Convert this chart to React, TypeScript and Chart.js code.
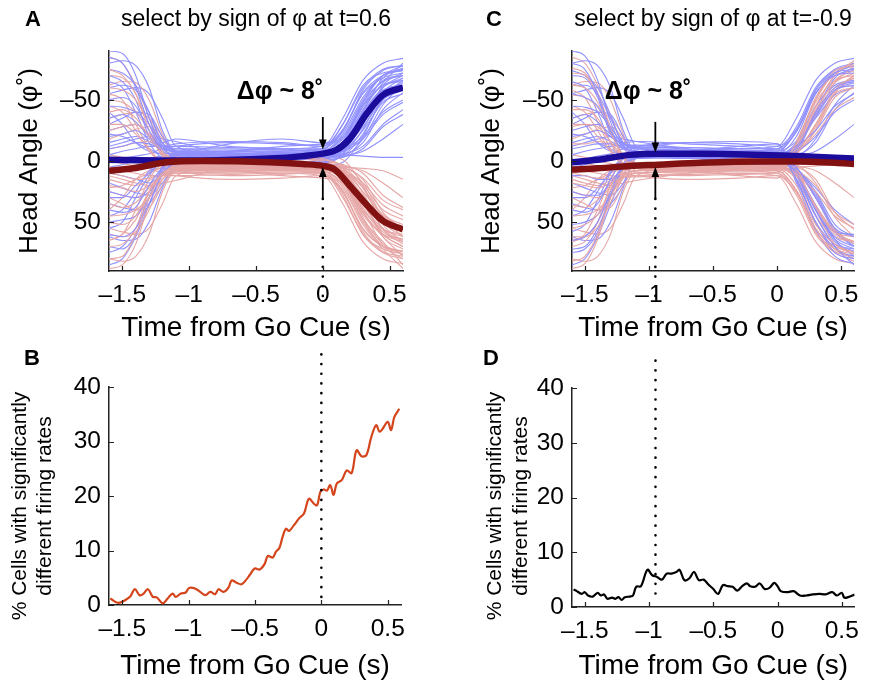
import React, { useEffect, useRef } from 'react';
import { Chart, registerables } from 'chart.js';

Chart.register(...registerables);

const FONT = '"Liberation Sans", Arial, Helvetica, sans-serif';
const BLUE_TRIAL = '#9090ff';
const RED_TRIAL = '#e6a6a6';
const BLUE_MEAN = '#1c0c9c';
const RED_MEAN = '#821212';
const B_LINE = '#d4451c';
const D_LINE = '#000000';

// ---------- tick labels ----------
const xTickValues = [-1.5, -1, -0.5, 0, 0.5];
const angleTickValues = [-50, 0, 50];
const pctTickValues = [0, 10, 20, 30, 40];

// ---------- single-trial head angle traces (deg) ----------
const trialTimes = [-1.6, -1.5, -1.4, -1.3, -1.2, -1.1, -0.7, -0.3, 0, 0.15, 0.3, 0.45, 0.6];

const trialsABlue = [
  [-85, -80, -60, -30, -10, -6, -5, -6, -8, -20, -50, -70, -75],
  [40, 42, 38, 20, 5, -3, -4, -5, -6, -15, -45, -62, -66],
  [-50, -52, -45, -25, -10, -8, -7, -6, -5, -10, -30, -55, -60],
  [60, 62, 55, 35, 10, 2, -2, -3, -4, -8, -25, -48, -55],
  [-20, -22, -25, -18, -12, -14, -16, -15, -12, -30, -62, -72, -74],
  [-70, -65, -50, -20, -8, -5, -4, -6, -7, -12, -38, -60, -68],
  [25, 28, 30, 25, 10, 0, -3, -2, -5, -9, -20, -40, -50],
  [-35, -38, -32, -20, -12, -10, -10, -9, -10, -25, -55, -68, -72],
  [70, 72, 60, 30, 5, -2, -4, -5, -5, -6, -12, -30, -42],
  [-10, -12, -15, -14, -10, -8, -6, -5, -4, -5, -4, -3, -3],
  [-60, -62, -58, -40, -15, -9, -8, -8, -9, -18, -48, -65, -70],
  [10, 12, 15, 18, 10, 0, -4, -4, -6, -10, -35, -58, -62],
  [-45, -44, -40, -30, -15, -18, -12, -10, -7, -14, -42, -64, -80],
  [50, 48, 45, 30, 8, -2, -5, -4, -5, -12, -40, -58, -60],
  [-25, -28, -30, -22, -12, -8, -8, -7, -6, -8, -18, -38, -48],
  [-90, -88, -70, -35, -12, -8, -6, -7, -8, -22, -52, -70, -78],
  [30, 30, 20, 10, -2, -5, -6, -5, -7, -16, -44, -62, -65],
  [-5, -8, -10, -12, -12, -12, -11, -10, -10, -30, -60, -75, -78],
  [75, 70, 55, 30, 6, -1, -2, -3, -4, -10, -28, -50, -58],
  [-15, -18, -20, -16, -10, -7, -6, -6, -6, -12, -36, -56, -64],
  [55, 50, 30, 12, 0, -4, -14, -18, -15, -20, -46, -66, -70],
  [-75, -72, -62, -40, -14, -10, -9, -9, -8, -15, -34, -52, -58],
  [-30, -35, -40, -38, -20, -6, 2, 3, 1, -4, -22, -50, -62],
  [5, 3, 0, -2, -4, -3, 4, 6, 2, -6, -40, -68, -76],
  [-65, -60, -40, -15, -2, 3, 6, 4, 0, -3, -10, -28, -38],
  [45, 40, 25, 8, -2, -6, -8, -10, -12, -35, -66, -80, -84],
  [-80, -82, -78, -60, -25, -8, -3, -1, -2, -8, -30, -62, -72],
  [18, 22, 26, 28, 18, 4, 0, -1, -3, -5, -15, -42, -56],
  [-40, -30, -15, -8, -6, -6, -8, -12, -14, -18, -48, -70, -74],
  [62, 65, 64, 50, 22, 4, -1, -2, -2, -4, -8, -18, -30],
  [-12, -15, -18, -20, -18, -16, -4, 0, 4, 1, -20, -52, -66],
  [35, 38, 40, 35, 20, 6, -4, -8, -10, -24, -58, -74, -78],
  [-55, -58, -60, -55, -35, -12, -5, -3, -3, -6, -26, -56, -68],
  [85, 80, 62, 36, 12, 3, 0, -2, -1, -3, -18, -46, -62],
  [-22, -20, -15, -10, -5, -2, 0, 2, -1, -8, -34, -60, -70],
  [0, -2, -4, -6, -10, -12, -15, -14, -12, -26, -56, -70, -74],
];

const trialsARed = [
  [80, 78, 60, 30, 10, 6, 5, 6, 8, 20, 50, 70, 80],
  [-40, -42, -35, -20, -5, 3, 4, 5, 6, 15, 42, 60, 66],
  [50, 52, 45, 25, 12, 8, 7, 6, 5, 10, 30, 55, 62],
  [-60, -58, -50, -30, -8, 0, 2, 3, 4, 8, 25, 45, 55],
  [20, 22, 25, 20, 12, 10, 9, 8, 8, 28, 60, 72, 76],
  [70, 68, 55, 25, 10, 5, 4, 6, 7, 12, 38, 60, 70],
  [-25, -28, -30, -22, -8, 0, 3, 2, 5, 9, 20, 40, 48],
  [35, 38, 34, 22, 12, 10, 10, 9, 10, 25, 55, 70, 74],
  [-70, -68, -55, -25, -4, 2, 4, 5, 5, 6, 14, 32, 40],
  [10, 12, 15, 14, 10, 8, 6, 5, 4, 5, 6, 8, 15],
  [60, 62, 58, 40, 15, 9, 8, 8, 9, 18, 48, 66, 85],
  [-10, -12, -15, -16, -8, 0, 4, 4, 6, 10, 35, 58, 64],
  [45, 44, 40, 30, 15, 10, 9, 7, 7, 14, 42, 62, 78],
  [-50, -48, -40, -25, -6, 2, 5, 4, 5, 12, 40, 56, 60],
  [25, 28, 30, 22, 12, 8, 8, 7, 6, 8, 18, 36, 45],
  [88, 85, 68, 35, 12, 8, 6, 7, 8, 22, 52, 72, 88],
  [-30, -30, -22, -10, 2, 5, 6, 5, 7, 16, 44, 60, 64],
  [5, 8, 10, 12, 12, 12, 11, 10, 10, 30, 60, 75, 80],
  [-75, -70, -55, -30, -6, 1, 2, 3, 4, 10, 28, 50, 56],
  [15, 18, 20, 16, 10, 7, 6, 6, 6, 12, 36, 56, 66],
  [-55, -50, -30, -10, 4, 8, 12, 11, 9, 14, 46, 68, 74],
  [65, 60, 48, 26, 9, 4, 3, 2, 3, 6, 22, 44, 52],
  [30, 35, 40, 38, 20, 6, -2, -3, -1, 4, 22, 50, 62],
  [-5, -3, 0, 2, 4, 3, -4, -6, -2, 6, 40, 68, 76],
  [65, 60, 40, 15, 2, -3, -6, -4, 0, 3, 10, 28, 38],
  [-45, -40, -25, -8, 2, 6, 8, 10, 12, 35, 66, 80, 84],
  [80, 82, 78, 60, 25, 8, 3, 1, 2, 8, 30, 62, 72],
  [-18, -22, -26, -28, -18, -4, 0, 1, 3, 5, 15, 42, 56],
  [40, 30, 15, 8, 6, 6, 8, 12, 14, 18, 48, 70, 74],
  [-62, -65, -64, -50, -22, -4, 1, 2, 2, 4, 8, 18, 30],
  [12, 15, 18, 20, 18, 16, 4, 0, -4, -1, 20, 52, 66],
  [-35, -38, -40, -35, -20, -6, 4, 8, 10, 24, 58, 74, 78],
  [55, 58, 60, 55, 35, 12, 5, 3, 3, 6, 26, 56, 68],
  [-85, -80, -62, -36, -12, -3, 0, 2, 1, 3, 18, 46, 62],
  [22, 20, 15, 10, 5, 2, 0, -2, 1, 8, 34, 60, 70],
  [0, 2, 4, 6, 10, 12, 15, 14, 12, 26, 56, 70, 74],
];

const trialsCBlue = [
  [-80, -75, -55, -25, -12, -8, -7, -6, -6, -20, -55, -70, -72],
  [40, 42, 35, 15, -2, -6, -5, -4, -5, 15, 50, 68, 72],
  [-55, -52, -45, -25, -12, -10, -8, -7, -6, -10, -40, -60, -65],
  [65, 62, 50, 25, 2, -4, -5, -5, -4, 10, 40, 62, 70],
  [-20, -22, -25, -20, -14, -12, -10, -8, -8, -25, -58, -72, -75],
  [-70, -68, -52, -22, -10, -6, -5, -6, -7, 5, 30, 55, 62],
  [25, 28, 28, 18, 4, -3, -4, -3, -5, -12, -25, -45, -55],
  [-35, -38, -32, -20, -14, -12, -11, -10, -10, 15, 50, 75, 80],
  [75, 72, 58, 28, 4, -3, -4, -5, -5, -8, -20, -40, -50],
  [-10, -12, -14, -14, -10, -8, -6, -5, -4, -5, -4, -3, -3],
  [-62, -62, -55, -35, -15, -10, -9, -8, -9, 8, 40, 64, 72],
  [12, 12, 15, 15, 5, -4, -6, -5, -6, -12, -38, -58, -62],
  [-45, -44, -40, -28, -15, -16, -14, -12, -7, 12, 45, 70, 85],
  [52, 50, 44, 28, 6, -3, -5, -4, -5, -15, -45, -62, -66],
  [-25, -28, -30, -22, -12, -8, -8, -7, -6, 6, 22, 40, 52],
  [-90, -86, -66, -32, -12, -8, -6, -7, -8, -24, -55, -72, -78],
  [30, 30, 22, 10, -3, -6, -6, -5, -7, 10, 38, 58, 60],
  [-5, -8, -10, -12, -13, -13, -11, -10, -10, -28, -60, -75, -80],
  [72, 70, 55, 30, 5, -2, -3, -4, -4, 6, 25, 52, 62],
  [-15, -18, -20, -16, -11, -8, -7, -6, -6, -12, -36, -58, -64],
  [58, 52, 32, 10, -4, -9, -15, -16, -14, 18, 56, 78, 84],
  [-74, -70, -60, -38, -14, -11, -9, -9, -8, -16, -35, -54, -60],
  [-30, -35, -40, -38, -20, -6, -3, 2, 4, 12, 40, 66, 74],
  [5, 3, 0, -2, -4, -3, -4, 2, 4, -6, -40, -68, -76],
  [-65, -60, -40, -15, -2, -3, -6, -4, 0, 8, 30, 58, 70],
  [45, 40, 25, 8, -2, -6, -8, -10, -12, -35, -66, -80, -84],
  [-80, -82, -78, -60, -25, -8, -3, -1, -2, 10, 36, 64, 78],
  [18, 22, 26, 28, 18, -2, -4, -1, -3, -5, -15, -42, -56],
  [-40, -30, -15, -8, -6, -6, -8, -12, -14, 16, 50, 72, 78],
  [62, 65, 64, 50, 22, -2, -3, -2, -2, -4, -8, -18, -30],
  [-12, -15, -18, -20, -18, -16, -10, -4, 2, 8, 28, 56, 70],
  [35, 38, 40, 35, 20, -4, -6, -8, -10, -24, -58, -74, -78],
  [-55, -58, -60, -55, -35, -12, -5, -3, -3, 6, 26, 56, 68],
  [85, 80, 62, 36, 12, -3, -2, -2, -1, -3, -18, -46, -62],
  [-22, -20, -15, -10, -5, -4, -3, 2, 4, 12, 44, 70, 80],
  [0, -2, -4, -6, -10, -12, -15, -14, -12, -26, -56, -70, -74],
];

const trialsCRed = [
  [82, 78, 60, 30, 12, 8, 7, 6, 6, 20, 52, 68, 75],
  [-42, -42, -35, -15, 2, 6, 5, 4, 5, -15, -48, -66, -70],
  [55, 52, 44, 24, 12, 10, 8, 7, 6, 10, 38, 60, 66],
  [-62, -60, -48, -24, -2, 4, 5, 5, 4, -10, -40, -60, -68],
  [18, 20, 22, 18, 13, 12, 10, 8, 8, 25, 58, 72, 76],
  [70, 66, 50, 20, 8, 5, 4, 5, 6, -6, -30, -55, -60],
  [-28, -30, -28, -16, -2, 3, 4, 3, 5, 12, 25, 45, 55],
  [36, 38, 32, 20, 13, 12, 11, 10, 10, -14, -50, -74, -78],
  [-76, -72, -56, -26, -3, 3, 4, 5, 5, 8, 20, 42, 52],
  [10, 12, 14, 14, 10, 8, 6, 5, 4, 5, 4, 3, 3],
  [62, 62, 54, 34, 14, 10, 9, 8, 8, -8, -42, -64, -72],
  [-14, -14, -16, -14, -4, 4, 6, 5, 6, 12, 38, 58, 62],
  [45, 44, 40, 28, 14, 10, 9, 8, 7, -12, -45, -70, -82],
  [-54, -52, -44, -26, -4, 3, 5, 4, 5, 15, 45, 62, 66],
  [25, 28, 30, 22, 12, 8, 8, 7, 6, -6, -22, -42, -52],
  [88, 84, 64, 30, 12, 8, 6, 7, 8, 24, 55, 72, 80],
  [-30, -30, -20, -8, 3, 6, 6, 5, 7, -10, -38, -58, -62],
  [5, 8, 10, 12, 13, 13, 11, 10, 10, 28, 60, 75, 82],
  [-72, -70, -54, -28, -4, 2, 3, 4, 4, -6, -25, -52, -60],
  [15, 18, 20, 16, 11, 8, 7, 6, 6, 12, 36, 58, 66],
  [-58, -52, -32, -10, 5, 9, 12, 11, 9, -14, -52, -72, -80],
  [66, 62, 50, 28, 10, 5, 3, 2, 3, 8, 30, 56, 68],
  [30, 35, 40, 38, 20, 6, 3, -2, -4, -12, -40, -66, -74],
  [-5, -3, 0, 2, 4, 3, 4, -2, -4, 6, 40, 68, 76],
  [65, 60, 40, 15, 2, 3, 6, 4, 0, -8, -30, -58, -70],
  [-45, -40, -25, -8, 2, 6, 8, 10, 12, 35, 66, 80, 84],
  [80, 82, 78, 60, 25, 8, 3, 1, 2, -10, -36, -64, -78],
  [-18, -22, -26, -28, -18, 2, 4, 1, 3, 5, 15, 42, 56],
  [40, 30, 15, 8, 6, 6, 8, 12, 14, -16, -50, -72, -78],
  [-62, -65, -64, -50, -22, 2, 3, 2, 2, 4, 8, 18, 30],
  [12, 15, 18, 20, 18, 16, 10, 4, -2, -8, -28, -56, -70],
  [-35, -38, -40, -35, -20, 4, 6, 8, 10, 24, 58, 74, 78],
  [55, 58, 60, 55, 35, 12, 5, 3, 3, -6, -26, -56, -68],
  [-85, -80, -62, -36, -12, 3, 2, 2, 1, 3, 18, 46, 62],
  [22, 20, 15, 10, 5, 4, 3, -2, -4, -12, -44, -70, -80],
  [0, 2, 4, 6, 10, 12, 15, 14, 12, 26, 56, 70, 74],
];

// ---------- mean traces ----------
const meanABlueT = [-1.6, -1.2, -0.9, -0.4, -0.15, 0, 0.1, 0.2, 0.33, 0.45, 0.6];
const meanABlueV = [-1, -0.5, -0.5, -2, -4, -6, -9, -18, -39, -54, -60];
const meanARedT = [-1.6, -1.42, -1.17, -0.9, -0.4, -0.15, 0, 0.09, 0.2, 0.33, 0.45, 0.6];
const meanARedV = [8, 6, 1, 0, 1, 2.5, 4, 7, 20, 36, 49, 56];
const meanCBlueT = [-1.6, -1.4, -1.15, -0.93, -0.6, -0.1, 0.15, 0.6];
const meanCBlueV = [1, -1, -5, -6, -6, -5, -4, -2];
const meanCRedT = [-1.6, -1.4, -1.15, -0.93, -0.6, -0.1, 0.15, 0.45, 0.6];
const meanCRedV = [7, 6, 4, 3, 1.5, 0.5, 0.5, 1.5, 2.5];

// ---------- % cells with significantly different firing rates ----------
const cellsBT = [-1.59, -1.53, -1.443, -1.406, -1.369, -1.344, -1.307, -1.27, -1.24, -1.196, -1.158, -1.121, -1.097, -1.059, -1.022, -0.998, -0.96, -0.923, -0.874, -0.837, -0.8, -0.775, -0.738, -0.7, -0.676, -0.639, -0.601, -0.564, -0.54, -0.502, -0.465, -0.428, -0.403, -0.366, -0.342, -0.317, -0.292, -0.267, -0.243, -0.205, -0.168, -0.131, -0.094, -0.057, -0.032, -0.007, 0.017, 0.042, 0.067, 0.092, 0.116, 0.153, 0.191, 0.228, 0.265, 0.302, 0.339, 0.376, 0.413, 0.438, 0.463, 0.5, 0.525, 0.55, 0.587];
const cellsBV = [1.2, 0.4, 1.5, 2.9, 1.8, 2.0, 2.9, 1.5, 1.4, 0.3, 1.2, 2.1, 1.5, 2.1, 2.3, 3.1, 3.1, 2.6, 1.8, 2.4, 2.0, 2.9, 2.4, 3.2, 4.5, 4.1, 3.8, 4.7, 5.5, 6.7, 6.5, 7.5, 9.0, 8.7, 9.8, 10.4, 12.5, 14.0, 13.6, 14.7, 15.9, 16.8, 19.5, 18.6, 18.3, 20.8, 21.2, 21.0, 22.0, 20.2, 22.3, 22.9, 24.7, 24.2, 28.4, 27.3, 27.5, 30.8, 33.0, 31.8, 32.4, 33.6, 32.1, 34.5, 36.0];
const cellsDT = [-1.588, -1.563, -1.525, -1.5, -1.475, -1.438, -1.4, -1.375, -1.35, -1.325, -1.288, -1.263, -1.238, -1.213, -1.188, -1.15, -1.125, -1.1, -1.063, -1.013, -0.975, -0.938, -0.9, -0.863, -0.825, -0.788, -0.763, -0.725, -0.688, -0.65, -0.613, -0.575, -0.538, -0.5, -0.463, -0.425, -0.388, -0.35, -0.313, -0.275, -0.238, -0.213, -0.175, -0.138, -0.1, -0.063, -0.025, 0, 0.025, 0.075, 0.125, 0.175, 0.225, 0.275, 0.325, 0.375, 0.425, 0.463, 0.5, 0.52, 0.55, 0.6];
const cellsDV = [3.2, 2.9, 2.4, 2.7, 2.1, 1.9, 2.6, 2.1, 2.3, 1.5, 1.7, 1.5, 1.8, 1.3, 1.8, 1.9, 2.1, 3.7, 3.8, 6.8, 5.8, 5.5, 5.0, 6.1, 6.1, 6.4, 6.8, 4.9, 5.2, 6.4, 4.9, 5.0, 4.1, 3.3, 2.4, 4.0, 3.8, 3.7, 3.0, 3.8, 4.3, 3.8, 3.7, 4.3, 3.3, 3.5, 4.4, 3.8, 2.9, 2.7, 2.9, 2.1, 2.1, 2.3, 2.4, 2.3, 2.7, 2.1, 2.6, 1.7, 1.8, 2.3];

// ---------- selection time markers (dotted line extent in axis units) ----------
const cueA = { t: 0, from: 31, to: 118 };
const cueB = { t: 0, from: 46, to: 1 };
const cueC = { t: -0.95, from: 31, to: 118 };
const cueD = { t: -0.95, from: 45, to: 1.6 };
// arrows (axis units): down arrow from -> tip, up arrow from -> tip
const arrowA = { t: 0, downFrom: -36, downTo: -9.5, upFrom: 31, upTo: 5 };
const arrowC = { t: -0.95, downFrom: -32, downTo: -7, upFrom: 31, upTo: 5 };

const zip = (ts: number[], vs: number[]) => ts.map((t, i) => ({ x: t, y: vs[i] }));
const fmt = (v: number) => (v < 0 ? '\u2013' + String(Math.abs(v)) : String(v));

const annotPlugin = {
  id: 'annot',
  afterDraw(chart: any, _args: any, opts: any) {
    const ctx = chart.ctx as CanvasRenderingContext2D;
    const xs = chart.scales.x;
    const ys = chart.scales.y;
    const ca = chart.chartArea;
    ctx.save();
    // inward tick marks
    ctx.strokeStyle = '#222';
    ctx.lineWidth = 1.2;
    ctx.beginPath();
    xs.ticks.forEach((tk: any) => {
      const px = Math.round(xs.getPixelForValue(tk.value)) + 0.5;
      ctx.moveTo(px, ca.bottom);
      ctx.lineTo(px, ca.bottom - 5);
    });
    ys.ticks.forEach((tk: any) => {
      const py = Math.round(ys.getPixelForValue(tk.value)) + 0.5;
      ctx.moveTo(ca.left, py);
      ctx.lineTo(ca.left + 5, py);
    });
    ctx.stroke();

    ctx.fillStyle = '#000';
    ctx.textAlign = 'center';
    ctx.textBaseline = 'middle';
    // panel letter
    ctx.font = `bold 22px ${FONT}`;
    ctx.fillText(opts.letter, opts.letterX, opts.letterY);

    if (opts.delta) {
      ctx.font = `bold 25px ${FONT}`;
      ctx.fillText(opts.delta.text, opts.delta.x, opts.delta.y);
    }
    if (opts.arrow) {
      const a = opts.arrow;
      const x = xs.getPixelForValue(a.t);
      ctx.strokeStyle = '#000';
      ctx.lineWidth = 1.8;
      const draw = (fromV: number, toV: number) => {
        const y1 = ys.getPixelForValue(fromV);
        const y2 = ys.getPixelForValue(toV);
        const dir = Math.sign(y2 - y1);
        ctx.beginPath();
        ctx.moveTo(x, y1);
        ctx.lineTo(x, y2 - dir * 6);
        ctx.stroke();
        ctx.beginPath();
        ctx.moveTo(x, y2);
        ctx.lineTo(x - 3.8, y2 - dir * 10);
        ctx.lineTo(x + 3.8, y2 - dir * 10);
        ctx.closePath();
        ctx.fill();
      };
      draw(a.downFrom, a.downTo);
      draw(a.upFrom, a.upTo);
    }
    if (opts.yLines) {
      ctx.font = `21px ${FONT}`;
      opts.yLines.forEach((ln: any) => {
        ctx.save();
        ctx.translate(ln.x, opts.yLinesY);
        ctx.rotate(-Math.PI / 2);
        ctx.fillText(ln.text, 0, 0);
        ctx.restore();
      });
    }
    ctx.restore();
  },
};

type Spec = {
  width: number;
  height: number;
  left: number;
  top: number;
  plotLeft: number;
  plotRight: number;
  plotTop: number;
  plotBottom: number;
  kind: 'angle' | 'pct';
  title?: string;
  datasets: any[];
  annot: any;
  yTitle?: string;
  yTitleOffset?: number;
  xTitleOffset: number;
};

// Chart.js draws higher "order" first (underneath); lower order ends on top.
function cueDataset(c: { t: number; from: number; to: number }) {
  return {
    data: [
      { x: c.t, y: c.from },
      { x: c.t, y: c.to },
    ],
    borderColor: '#000',
    borderWidth: 2.6,
    borderDash: [0.1, 9.6],
    borderCapStyle: 'round',
    pointRadius: 0,
    clip: false,
    order: 0,
  };
}

function trialDatasets(blue: number[][], red: number[][]) {
  const out: any[] = [];
  const n = Math.max(blue.length, red.length);
  const mk = (vals: number[], color: string) => ({
    data: zip(trialTimes, vals),
    borderColor: color,
    borderWidth: 1.1,
    pointRadius: 0,
    cubicInterpolationMode: 'monotone',
    order: 10,
  });
  for (let i = 0; i < n; i++) {
    if (red[i]) out.push(mk(red[i], RED_TRIAL));
    if (blue[i]) out.push(mk(blue[i], BLUE_TRIAL));
  }
  return out;
}

function meanDataset(ts: number[], vs: number[], color: string, order: number) {
  return {
    data: zip(ts, vs),
    borderColor: color,
    borderWidth: 6.5,
    pointRadius: 0,
    cubicInterpolationMode: 'monotone',
    order,
  };
}

function lineDataset(ts: number[], vs: number[], color: string) {
  return {
    data: zip(ts, vs),
    borderColor: color,
    borderWidth: 2.2,
    pointRadius: 0,
    tension: 0.35,
    order: 1,
  };
}

function buildConfig(s: Spec): any {
  const isAngle = s.kind === 'angle';
  const yTickVals = isAngle ? angleTickValues : pctTickValues;
  return {
    type: 'line',
    data: { datasets: s.datasets },
    plugins: [annotPlugin],
    options: {
      responsive: false,
      animation: false,
      events: [],
      layout: {
        padding: {
          left: 0,
          right: s.width - s.plotRight,
          top: s.title ? 0 : s.plotTop,
          bottom: 0,
        },
      },
      plugins: {
        legend: { display: false },
        tooltip: { enabled: false },
        title: s.title
          ? {
              display: true,
              text: s.title,
              fullSize: false,
              color: '#000',
              font: { family: FONT, size: 23, weight: 'normal', lineHeight: 1.2 },
              padding: { top: 6, bottom: s.plotTop - 6 - 27.6 },
            }
          : { display: false },
        annot: s.annot,
      },
      scales: {
        x: {
          type: 'linear',
          min: -1.6,
          max: 0.6,
          afterFit: (sc: any) => {
            sc.height = s.height - s.plotBottom;
          },
          afterBuildTicks: (sc: any) => {
            sc.ticks = xTickValues.map((v) => ({ value: v }));
          },
          grid: { display: false, drawTicks: false },
          border: { display: true, color: '#222', width: 1.5 },
          ticks: {
            autoSkip: false,
            maxRotation: 0,
            padding: 10,
            color: '#000',
            font: { family: FONT, size: 24.5 },
            callback: (v: any) => fmt(Number(v)),
          },
          title: {
            display: true,
            text: 'Time from Go Cue (s)',
            color: '#000',
            font: { family: FONT, size: 28, lineHeight: (s.xTitleOffset * 2) / 28 },
            padding: { top: 0, bottom: 0 },
          },
        },
        y: {
          type: 'linear',
          min: isAngle ? -90 : 0,
          max: isAngle ? 90 : 40,
          reverse: isAngle,
          afterFit: (sc: any) => {
            sc.width = s.plotLeft;
          },
          afterBuildTicks: (sc: any) => {
            sc.ticks = yTickVals.map((v) => ({ value: v }));
          },
          grid: { display: false, drawTicks: false },
          border: { display: true, color: '#222', width: 1.5 },
          ticks: {
            autoSkip: false,
            padding: 8,
            color: '#000',
            font: { family: FONT, size: 24.5 },
            callback: (v: any) => fmt(Number(v)),
          },
          title: s.yTitle
            ? {
                display: true,
                text: s.yTitle,
                color: '#000',
                font: { family: FONT, size: 26, lineHeight: 1.2 },
                padding: { top: s.yTitleOffset, bottom: 0 },
              }
            : { display: false },
        },
      },
    },
  };
}

const specs: Spec[] = [
  {
    // A
    width: 434, height: 340, left: 0, top: 0,
    plotLeft: 109, plotRight: 403, plotTop: 51, plotBottom: 271,
    kind: 'angle',
    title: 'select by sign of \u03c6 at t=0.6',
    datasets: [
      ...trialDatasets(trialsABlue, trialsARed),
      meanDataset(meanABlueT, meanABlueV, BLUE_MEAN, 3),
      meanDataset(meanARedT, meanARedV, RED_MEAN, 2),
      cueDataset(cueA),
    ],
    annot: { letter: 'A', letterX: 33, letterY: 20, delta: { text: '\u0394\u03c6 ~ 8\u02da', x: 280, y: 92 }, arrow: arrowA },
    yTitle: 'Head Angle (\u03c6\u02da)',
    yTitleOffset: 14.4,
    xTitleOffset: 12,
  },
  {
    // C
    width: 435, height: 340, left: 434, top: 0,
    plotLeft: 138, plotRight: 433, plotTop: 51, plotBottom: 271,
    kind: 'angle',
    title: 'select by sign of \u03c6 at t=-0.9',
    datasets: [
      ...trialDatasets(trialsCBlue, trialsCRed),
      meanDataset(meanCBlueT, meanCBlueV, BLUE_MEAN, 3),
      meanDataset(meanCRedT, meanCRedV, RED_MEAN, 2),
      cueDataset(cueC),
    ],
    annot: { letter: 'C', letterX: 60, letterY: 20, delta: { text: '\u0394\u03c6 ~ 8\u02da', x: 214, y: 92 }, arrow: arrowC },
    yTitle: 'Head Angle (\u03c6\u02da)',
    yTitleOffset: 42.4,
    xTitleOffset: 12,
  },
  {
    // B
    width: 434, height: 342, left: 0, top: 340,
    plotLeft: 109, plotRight: 401, plotTop: 47, plotBottom: 265,
    kind: 'pct',
    datasets: [lineDataset(cellsBT, cellsBV, B_LINE), cueDataset(cueB)],
    annot: {
      letter: 'B', letterX: 32, letterY: 19,
      yLinesY: 166,
      yLines: [
        { text: '% Cells with significantly', x: 20 },
        { text: 'different firing rates', x: 45 },
      ],
    },
    xTitleOffset: 16,
  },
  {
    // D
    width: 435, height: 342, left: 434, top: 340,
    plotLeft: 138, plotRight: 430, plotTop: 48, plotBottom: 267,
    kind: 'pct',
    datasets: [lineDataset(cellsDT, cellsDV, D_LINE), cueDataset(cueD)],
    annot: {
      letter: 'D', letterX: 57, letterY: 19,
      yLinesY: 166,
      yLines: [
        { text: '% Cells with significantly', x: 61 },
        { text: 'different firing rates', x: 87 },
      ],
    },
    xTitleOffset: 16,
  },
];

function Panel({ spec }: { spec: Spec }) {
  const ref = useRef<HTMLCanvasElement | null>(null);
  useEffect(() => {
    if (!ref.current) return;
    const chart = new Chart(ref.current, buildConfig(spec));
    return () => chart.destroy();
  }, [spec]);
  return (
    <canvas
      ref={ref}
      width={spec.width}
      height={spec.height}
      style={{ position: 'absolute', left: spec.left, top: spec.top, width: spec.width, height: spec.height }}
    />
  );
}

export default function App() {
  return (
    <div style={{ position: 'absolute', left: 0, top: 0, width: 869, height: 682, background: '#fff' }}>
      {specs.map((s, i) => (
        <Panel key={i} spec={s} />
      ))}
    </div>
  );
}
